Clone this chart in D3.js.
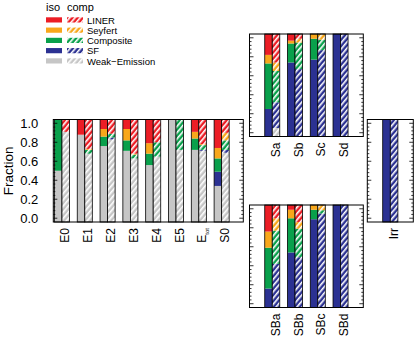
<!DOCTYPE html>
<html>
<head>
<meta charset="utf-8">
<script src="https://cdn.jsdelivr.net/npm/d3@7/dist/d3.min.js"></script>
<style>
body { margin: 0; background: #fff; }
text { font-family: "Liberation Sans", Arial, sans-serif; fill: #000; }
</style>
</head>
<body>
<div class="chart"></div>
<script>
// classes, stacked bottom -> top
var classes = ["Weak-Emission", "SF", "Composite", "Seyfert", "LINER"];
var colors = ["#c6c6c6", "#2b3192", "#09a04b", "#f8a71b", "#ec1d25"];
var legendNames = ["LINER", "Seyfert", "Composite", "SF", "Weak\u2212Emission"];
var legendIdx = [4, 3, 2, 1, 0];

// fractions per bar: [weak, SF, composite, seyfert, liner]
var mainGroups = ["E0", "E1", "E2", "E3", "E4", "E5", "Etot", "S0"];
var mainIso = [
  [0.50, 0, 0.50, 0, 0],
  [0.88, 0, 0, 0, 0.12],
  [0.76, 0, 0.10, 0.08, 0.06],
  [0.71, 0, 0.11, 0.12, 0.06],
  [0.56, 0, 0.12, 0.11, 0.21],
  [1.00, 0, 0, 0, 0],
  [0.72, 0, 0.12, 0.07, 0.09],
  [0.34, 0.15, 0.14, 0.11, 0.26]
];
var mainComp = [
  [0.91, 0, 0, 0, 0.09],
  [0.68, 0, 0.04, 0.01, 0.27],
  [0.83, 0.02, 0.04, 0, 0.11],
  [0.63, 0, 0.04, 0.01, 0.32],
  [0.65, 0, 0.15, 0, 0.20],
  [0.72, 0, 0.28, 0, 0],
  [0.71, 0.01, 0.05, 0.01, 0.22],
  [0.69, 0.03, 0.10, 0.08, 0.10]
];

var spiralGroups = ["Sa", "Sb", "Sc", "Sd"];
var spiralIso = [
  [0, 0.25, 0.48, 0.09, 0.18],
  [0, 0.74, 0.20, 0.03, 0.03],
  [0, 0.77, 0.22, 0.01, 0],
  [0, 1.00, 0, 0, 0]
];
var spiralComp = [
  [0.05, 0.27, 0.33, 0.09, 0.26],
  [0, 0.67, 0.28, 0.04, 0.01],
  [0, 0.87, 0.11, 0.02, 0],
  [0, 1.00, 0, 0, 0]
];

var barredGroups = ["SBa", "SBb", "SBc", "SBd"];
var barredIso = [
  [0, 0.16, 0.43, 0.17, 0.24],
  [0, 0.54, 0.36, 0.09, 0.01],
  [0, 0.89, 0.10, 0.01, 0],
  [0, 1.00, 0, 0, 0]
];
var barredComp = [
  [0, 0.42, 0.35, 0.13, 0.10],
  [0, 0.49, 0.30, 0.07, 0.14],
  [0, 0.95, 0.035, 0.015, 0],
  [0, 1.00, 0, 0, 0]
];

var irrGroups = ["Irr"];
var irrIso = [[0, 1.00, 0, 0, 0]];
var irrComp = [[0, 1.00, 0, 0, 0]];

var yTicks = [0, 0.2, 0.4, 0.6, 0.8, 1.0];
var yMinorStep = 0.04;

var svgWidth = 415, svgHeight = 343;
var svg = d3.select(".chart").append("svg")
  .attr("width", svgWidth)
  .attr("height", svgHeight);

// hatch patterns (white diagonal stripes)
var defs = svg.append("defs");
colors.forEach(function(c, k) {
  var p = defs.append("pattern")
    .attr("id", "hatch" + k)
    .attr("patternUnits", "userSpaceOnUse")
    .attr("width", 4).attr("height", 4)
    .attr("patternTransform", "rotate(-50)");
  p.append("rect").attr("width", 4).attr("height", 4).attr("fill", c);
  p.append("rect").attr("width", 4).attr("height", 1.6).attr("fill", "#fff");
});

var panels = [
  {groups: mainGroups, iso: mainIso, comp: mainComp, x0: 53.3, x1: 243.3, y0: 119.5, y1: 222, xd: [-0.38, 7.95], labels: true},
  {groups: spiralGroups, iso: spiralIso, comp: spiralComp, x0: 249.5, x1: 363.3, y0: 34, y1: 136.5, xd: [-1, 4], labels: false},
  {groups: barredGroups, iso: barredIso, comp: barredComp, x0: 249.5, x1: 363.3, y0: 205, y1: 307.5, xd: [-1, 4], labels: false},
  {groups: irrGroups, iso: irrIso, comp: irrComp, x0: 367.3, x1: 413.3, y0: 119.5, y1: 222, xd: [-1, 1], labels: false}
];

var halfW = 0.33;

panels.forEach(function(p) {
  var x = d3.scaleLinear().domain(p.xd).range([p.x0, p.x1]);
  var y = d3.scaleLinear().domain([-0.04, 1.04]).range([p.y1, p.y0]);
  var g = svg.append("g");

  function yPos(v) {
    if (v <= 0.0001) return y(-0.04);
    if (v >= 0.9999) return y(1.04);
    return y(v);
  }

  p.groups.forEach(function(name, i) {
    [["iso", p.iso[i], -halfW], ["comp", p.comp[i], 0]].forEach(function(b) {
      var xl = x(i + b[2]), xr = x(i + b[2] + halfW);
      var cum = 0;
      b[1].forEach(function(f, k) {
        if (f <= 0) return;
        var lo = cum, hi = cum + f;
        cum = hi;
        g.append("rect")
          .attr("x", xl)
          .attr("width", xr - xl)
          .attr("y", yPos(hi))
          .attr("height", yPos(lo) - yPos(hi))
          .attr("fill", b[0] === "iso" ? colors[k] : "url(#hatch" + k + ")");
      });
      g.append("rect")
        .attr("x", xl).attr("width", xr - xl)
        .attr("y", p.y0).attr("height", p.y1 - p.y0)
        .attr("fill", "none").attr("stroke", "#000").attr("stroke-width", 0.8);
    });

    // category label, rotated
    var lab = g.append("text")
      .attr("transform", "translate(" + (x(i) + 7.5) + "," + (p.y1 + 6) + ") rotate(-90)")
      .attr("text-anchor", "end")
      .style("font-size", "12px");
    if (name === "Etot") {
      lab.append("tspan").text("E");
      lab.append("tspan").attr("dy", 3).style("font-size", "6px").text("tot");
    } else {
      lab.text(name);
    }
  });

  // frame
  g.append("rect")
    .attr("x", p.x0).attr("y", p.y0)
    .attr("width", p.x1 - p.x0).attr("height", p.y1 - p.y0)
    .attr("fill", "none").attr("stroke", "#000").attr("stroke-width", 1);

  // inward ticks on left and right
  var minors = d3.range(0, 1.0001, yMinorStep);
  minors.forEach(function(v) {
    var major = yTicks.some(function(t) { return Math.abs(t - v) < 1e-6; });
    var len = major ? 4 : 2;
    g.append("line").attr("x1", p.x0).attr("x2", p.x0 + len)
      .attr("y1", y(v)).attr("y2", y(v)).attr("stroke", "#000").attr("stroke-width", 0.8);
    g.append("line").attr("x1", p.x1).attr("x2", p.x1 - len)
      .attr("y1", y(v)).attr("y2", y(v)).attr("stroke", "#000").attr("stroke-width", 0.8);
  });

  if (p.labels) {
    yTicks.forEach(function(t) {
      g.append("text")
        .attr("x", p.x0 - 15).attr("y", y(t))
        .attr("dy", "0.35em")
        .attr("text-anchor", "end")
        .style("font-size", "13px")
        .text(t.toFixed(1));
    });
    g.append("text")
      .attr("transform", "translate(13," + ((p.y0 + p.y1) / 2) + ") rotate(-90)")
      .attr("text-anchor", "middle")
      .style("font-size", "13.5px")
      .text("Fraction");
  }
});

// legend
var leg = svg.append("g");
leg.append("text").attr("x", 46).attr("y", 11).style("font-size", "11px").text("iso");
leg.append("text").attr("x", 67).attr("y", 11).style("font-size", "11px").text("comp");
legendIdx.forEach(function(k, r) {
  var yy = 17.3 + r * 10.25;
  leg.append("rect").attr("x", 46).attr("y", yy).attr("width", 16).attr("height", 5.2).attr("fill", colors[k]);
  leg.append("rect").attr("x", 67).attr("y", yy).attr("width", 16).attr("height", 5.2).attr("fill", "url(#hatch" + k + ")");
  leg.append("text").attr("x", 87).attr("y", yy + 6.3).style("font-size", "9.5px").text(legendNames[r]);
});
</script>
</body>
</html>
